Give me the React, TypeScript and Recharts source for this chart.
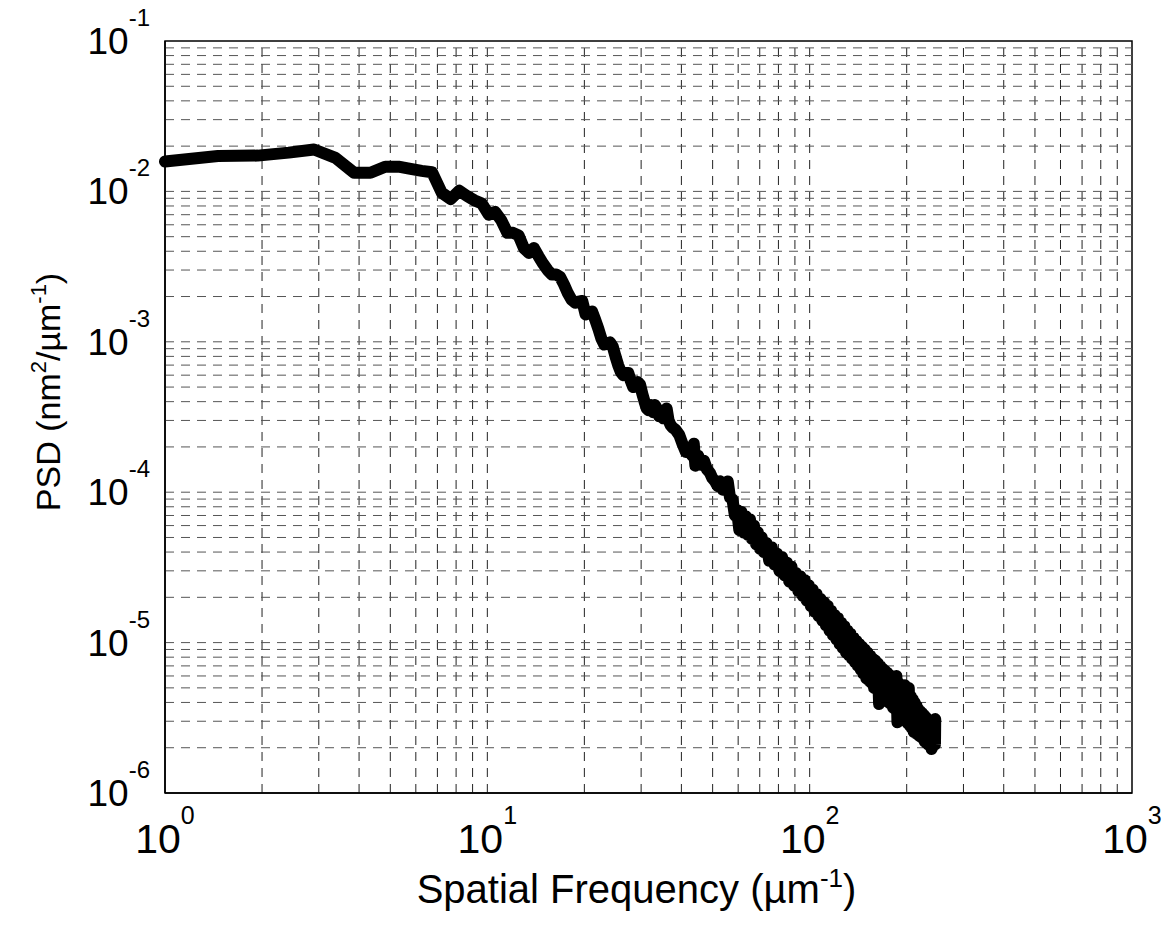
import { LineChart, Line, XAxis, YAxis, ReferenceLine, ReferenceArea, Label } from "recharts";

// spatial frequency (1/um) and PSD (nm^2 / um^-1) in three stretches
const lowFreq = [
  1.0, 1.46, 1.94, 2.42, 2.9, 3.38, 3.86, 4.34, 4.82, 5.3, 5.78, 6.26, 6.74, 7.22, 7.7, 8.18, 8.66, 9.14, 9.62,
  10.1, 10.58, 11.06, 11.54, 12.02, 12.5, 12.98, 13.46, 13.94, 14.42, 14.9, 15.38, 15.86, 16.34, 16.82, 17.3,
  17.78, 18.26, 18.74, 19.22, 19.7, 20.18, 20.66, 21.14, 21.62, 22.1, 22.58, 23.06, 23.54, 24.02, 24.5, 24.98,
  25.46, 25.94, 26.42, 26.9, 27.38, 27.86, 28.34, 28.82, 29.3, 29.78, 30.26, 30.74, 31.22,
];
const lowPsd = [
  0.0158, 0.0172, 0.0173, 0.0181, 0.019, 0.0167, 0.0133, 0.0133, 0.0146, 0.0146, 0.0141, 0.0137, 0.0134, 0.0098,
  0.0089, 0.0101, 0.0093, 0.0087, 0.0083,
  0.007, 0.0073, 0.0064, 0.0053, 0.0053, 0.0051, 0.0042, 0.0039, 0.0042, 0.0037, 0.0033, 0.003, 0.0028, 0.0028,
  0.0027, 0.0024, 0.0021, 0.0019, 0.00182, 0.00185, 0.00187, 0.00152, 0.00155, 0.00159, 0.0014, 0.00122,
  0.00105, 0.00096, 0.00097, 0.00099, 0.00093, 0.0008, 0.0007, 0.00063, 0.0006, 0.00062, 0.00062, 0.00055,
  0.0005, 0.00052, 0.00054, 0.00052, 0.00045, 0.0004, 0.00036,
];

const midFreq = [
  31.7, 32.2, 32.7, 33.1, 33.6, 34.1, 34.6, 35.1, 35.5, 36.0,
  36.5, 37.0, 37.5, 38.4, 39.4, 40.3, 41.3, 42.2, 43.2, 43.7,
  44.2, 45.1, 46.1, 47.0, 48.0, 49.0, 49.9, 50.9, 51.8, 52.8,
  53.8, 54.7, 55.7, 56.6, 57.6, 58.6, 59.5, 60.5, 61.4, 62.4,
  63.4, 64.3, 65.3, 66.2, 67.2, 68.2, 69.1, 70.1, 71.0,
];
const midPsd = [
  0.00035, 0.00038, 0.00034, 0.00038, 0.00036, 0.00032, 0.00034, 0.00031, 0.00034, 0.00036,
  0.0003, 0.00028, 0.00027, 0.00026, 0.00024, 0.00021, 0.000185, 0.00019, 0.000175, 0.00021,
  0.00015, 0.000175, 0.000152, 0.000162, 0.000142, 0.000135, 0.000124, 0.000118, 0.00011, 0.000118,
  0.000104, 0.000112, 1.18e-4, 9.2e-5, 9.0e-5, 7.0e-5, 7.6e-5, 5.6e-5, 7.4e-5, 5.4e-5,
  6.9e-5, 5.2e-5, 6.6e-5, 4.9e-5, 6.0e-5, 4.5e-5, 5.4e-5, 4.2e-5, 5.0e-5,
];

const highFreq = [
  72.0, 73.4, 74.9, 76.3, 77.8, 79.2, 80.6, 82.1, 83.5, 85.0,
  86.4, 87.8, 89.3, 90.7, 92.2, 93.6, 95.0, 96.5, 97.9, 99.4,
  100.8, 102.2, 103.7, 105.1, 106.6, 108.0, 109.4, 110.9, 112.3, 113.8,
  115.2, 116.6, 118.1, 119.5, 121.0, 122.4, 123.8, 125.3, 126.7, 128.2,
  129.6, 131.0, 132.5, 133.9, 135.4, 136.8, 138.2, 139.7, 141.1, 142.6,
  144.0, 145.4, 146.9, 148.3, 149.8, 151.2, 152.6, 154.1, 155.5, 157.0,
  158.4, 159.8, 161.3, 162.7, 164.2, 165.6, 167.0, 168.5, 169.9, 171.4,
  172.8, 174.2, 175.7, 177.1, 178.6, 180.0, 181.4, 182.9, 184.3, 185.8,
  187.2, 188.6, 190.1, 191.5, 193.0, 194.4, 195.8, 197.3, 198.7, 200.2,
  201.6, 203.0, 204.5, 205.9, 207.4, 208.8, 210.2, 211.7, 213.1, 214.6,
  216.0, 217.4, 218.9, 220.3, 221.8, 223.2, 224.6, 226.1, 227.5, 229.0,
  230.4, 231.8, 233.3, 234.7, 236.2, 237.6, 239.0, 240.5, 241.9, 243.4,
  244.8, 245.2,
];
const highPsd = [
  4.0e-5, 4.6e-5, 3.5e-5, 4.3e-5, 3.3e-5, 3.9e-5, 3.0e-5, 3.7e-5, 2.8e-5, 3.4e-5,
  2.55e-5, 3.2e-5, 2.4e-5, 2.9e-5, 2.2e-5, 2.75e-5, 2.05e-5, 2.6e-5, 1.9e-5, 2.4e-5,
  1.75e-5, 2.25e-5, 1.6e-5, 2.1e-5, 1.5e-5, 1.95e-5, 1.4e-5, 1.85e-5, 1.3e-5, 1.75e-5,
  1.2e-5, 1.62e-5, 1.12e-5, 1.52e-5, 1.05e-5, 1.45e-5, 9.8e-6, 1.35e-5, 9.2e-6, 1.28e-5,
  8.6e-6, 1.2e-5, 8.2e-6, 1.14e-5, 7.8e-6, 1.08e-5, 7.4e-6, 1.02e-5, 7.0e-6, 9.8e-6,
  6.6e-6, 9.4e-6, 6.2e-6, 9.0e-6, 5.8e-6, 8.6e-6, 5.6e-6, 8.2e-6, 5.4e-6, 7.8e-6,
  5.0e-6, 7.6e-6, 4.9e-6, 7.3e-6, 3.9e-6, 7.0e-6, 4.6e-6, 6.7e-6, 4.4e-6, 6.5e-6,
  4.2e-6, 6.3e-6, 4.0e-6, 6.1e-6, 3.9e-6, 5.9e-6, 3.7e-6, 5.8e-6, 3.6e-6, 6.0e-6,
  2.95e-6, 5.4e-6, 3.4e-6, 5.2e-6, 3.2e-6, 5.0e-6, 3.1e-6, 5.2e-6, 3.0e-6, 4.8e-6,
  2.9e-6, 5.0e-6, 2.8e-6, 4.4e-6, 2.7e-6, 4.2e-6, 2.55e-6, 4.0e-6, 2.5e-6, 3.8e-6,
  2.45e-6, 3.6e-6, 2.4e-6, 3.5e-6, 2.35e-6, 3.4e-6, 2.3e-6, 3.3e-6, 2.2e-6, 3.2e-6,
  2.15e-6, 3.1e-6, 2.1e-6, 3.0e-6, 2.05e-6, 2.9e-6, 1.96e-6, 2.8e-6, 2.05e-6, 3.0e-6,
  2.1e-6, 3.1e-6,
];

const xTicks = [1, 10, 100, 1000];
const yTicks = [1e-6, 1e-5, 1e-4, 1e-3, 1e-2, 1e-1];
const xGrid = [2, 3, 4, 5, 6, 7, 8, 9, 10, 20, 30, 40, 50, 60, 70, 80, 90, 100, 200, 300, 400, 500, 600, 700, 800, 900];
const yGrid = [
  2e-6, 3e-6, 4e-6, 5e-6, 6e-6, 7e-6, 8e-6, 9e-6, 1e-5, 2e-5, 3e-5, 4e-5, 5e-5, 6e-5, 7e-5, 8e-5, 9e-5,
  1e-4, 2e-4, 3e-4, 4e-4, 5e-4, 6e-4, 7e-4, 8e-4, 9e-4, 1e-3, 2e-3, 3e-3, 4e-3, 5e-3, 6e-3, 7e-3, 8e-3, 9e-3,
  1e-2, 2e-2, 3e-2, 4e-2, 5e-2, 6e-2, 7e-2, 8e-2, 9e-2,
];

const freqs = [...lowFreq, ...midFreq, ...highFreq];
const psds = [...lowPsd, ...midPsd, ...highPsd];
const data = freqs.map((f, i) => ({ f, psd: psds[i] }));

const FONT = "'Liberation Sans', Arial, Helvetica, sans-serif";

const XTick = (props: any) => {
  const { x, y, payload } = props;
  const exp = Math.round(Math.log10(payload.value));
  return (
    <text x={x} y={y + 58} textAnchor="middle" fontFamily={FONT} fontSize={41} fill="#000">
      10<tspan dy={-29} fontSize={25}>{exp}</tspan>
    </text>
  );
};

const YTick = (props: any) => {
  const { x, y, payload } = props;
  const exp = Math.round(Math.log10(payload.value));
  return (
    <text x={x - 13} y={y + 13} textAnchor="end" fontFamily={FONT} fontSize={37} fill="#000">
      10<tspan dy={-28} fontSize={24}>{exp}</tspan>
    </text>
  );
};

const axisStroke = { stroke: "#000", strokeWidth: 1.5 };

export default function App() {
  return (
    <div style={{ position: "absolute", left: 0, top: 0, width: 1172, height: 928, background: "#fff" }}>
      <LineChart width={1172} height={928} data={data} margin={{ top: 41, right: 40, bottom: 0, left: 0 }}>
        <XAxis
          dataKey="f"
          type="number"
          scale="log"
          domain={[1, 1000]}
          ticks={xTicks}
          interval={0}
          height={135}
          tickSize={0}
          tickLine={false}
          axisLine={axisStroke}
          tick={<XTick />}
        >
          <Label
            content={(p: any) => {
              const vb = p.viewBox;
              return (
                <text
                  x={vb.x + vb.width / 2 - 12}
                  y={vb.y + 110}
                  textAnchor="middle"
                  fontFamily={FONT}
                  fontSize={40}
                  fill="#000"
                >
                  Spatial Frequency (µm<tspan dy={-16} fontSize={26}>-1</tspan>
                  <tspan dy={16}>)</tspan>
                </text>
              );
            }}
          />
        </XAxis>
        <YAxis
          type="number"
          scale="log"
          domain={[1e-6, 1e-1]}
          ticks={yTicks}
          interval={0}
          width={165}
          tickSize={0}
          tickLine={false}
          axisLine={axisStroke}
          tick={<YTick />}
        >
          <Label
            content={() => (
              <text
                transform="translate(60, 392) rotate(-90)"
                textAnchor="middle"
                fontFamily={FONT}
                fontSize={34}
                fill="#000"
              >
                PSD (nm<tspan dy={-14} fontSize={22}>2</tspan>
                <tspan dy={14}>/µm</tspan>
                <tspan dy={-14} fontSize={22}>-1</tspan>
                <tspan dy={14}>)</tspan>
              </text>
            )}
          />
        </YAxis>
        {xGrid.map((v) => (
          <ReferenceLine key={"x" + v} x={v} stroke="#222" strokeWidth={1} strokeDasharray="9 7" />
        ))}
        {yGrid.map((v) => (
          <ReferenceLine key={"y" + v} y={v} stroke="#555" strokeWidth={1} strokeDasharray="9 7" />
        ))}
        <ReferenceArea x1={1} x2={1000} y1={1e-6} y2={1e-1} fill="none" stroke="#000" strokeWidth={1.5} />
        <Line
          dataKey="psd"
          type="linear"
          stroke="#000"
          strokeWidth={12}
          strokeLinejoin="round"
          strokeLinecap="round"
          dot={false}
          isAnimationActive={false}
        />
      </LineChart>
    </div>
  );
}
